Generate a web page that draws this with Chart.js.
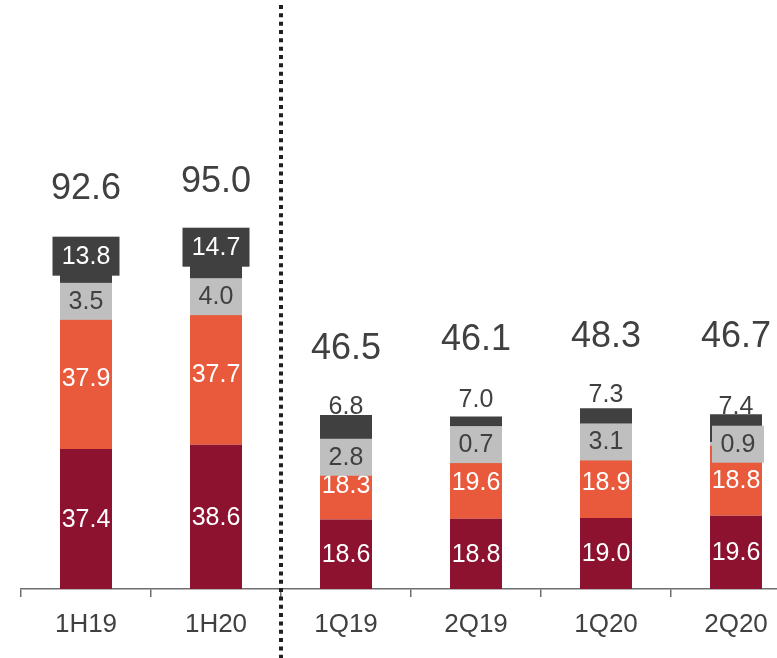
<!DOCTYPE html>
<html>
<head>
<meta charset="utf-8">
<script src="https://cdn.jsdelivr.net/npm/chart.js@4"></script>
<style>
  html, body { margin: 0; padding: 0; background: #fff; overflow: hidden; }
  #wrap { width: 777px; height: 658px; overflow: hidden; }
</style>
</head>
<body>
<div id="wrap"><canvas id="chart" width="805" height="658"></canvas></div>
<script>
const categories = ["1H19", "1H20", "1Q19", "2Q19", "1Q20", "2Q20"];
const baseSeries = [37.4, 38.6, 18.6, 18.8, 19.0, 19.6];
const secondSeries = [37.9, 37.7, 18.3, 19.6, 18.9, 18.8];
const smallSeries = [3.5, 4.0, 2.8, 0.7, 3.1, 0.9];
const topSeries = [13.8, 14.7, 6.8, 7.0, 7.3, 7.4];
const totals = [92.6, 95.0, 46.5, 46.1, 48.3, 46.7];

const FONT = '"Liberation Sans", Arial, sans-serif';
const DARK = "#404040";

// how far above the bar top the labels sit (px)
const totalLift = [54, 52, 66, 77, 71, 77];
const topLabelLift = [0, 0, 8, 16, 13, 7];
const boxedTop = [true, true, false, false, false, false];
// nudges for the grey label boxes (px)
const greyShiftY = [0, 0, 11, 0, 0, 0];
const greyShiftX = [0, 0, 0, 0, 0, 2];

const labelPlugin = {
    id: "segLabels",
    beforeDatasetsDraw(chart) {
        // plain top labels sit behind the bar, the bar clips their bottom
        const ctx = chart.ctx;
        const meta = chart.getDatasetMeta(3);
        ctx.save();
        ctx.font = "25px " + FONT;
        ctx.fillStyle = DARK;
        ctx.textAlign = "center";
        ctx.textBaseline = "middle";
        meta.data.forEach((bar, i) => {
            if (boxedTop[i]) return;
            ctx.fillText(topSeries[i].toFixed(1), bar.x, bar.y - topLabelLift[i]);
        });
        ctx.restore();
    },
    afterDatasetsDraw(chart) {
        const ctx = chart.ctx;
        ctx.save();
        ctx.textAlign = "center";
        ctx.textBaseline = "middle";
        ctx.font = "25px " + FONT;

        // white labels on red and orange
        [0, 1].forEach(d => {
            const meta = chart.getDatasetMeta(d);
            const values = chart.data.datasets[d].data;
            meta.data.forEach((bar, i) => {
                ctx.fillStyle = "#ffffff";
                ctx.fillText(values[i].toFixed(1), bar.x, (bar.y + bar.base) / 2 + 1);
            });
        });

        // grey boxes
        chart.getDatasetMeta(2).data.forEach((bar, i) => {
            const cy = (bar.y + bar.base) / 2 + greyShiftY[i];
            const cx = bar.x + greyShiftX[i];
            ctx.fillStyle = "#bfbfbf";
            ctx.fillRect(cx - 26, cy - 18, 52, 37);
            ctx.fillStyle = DARK;
            ctx.fillText(smallSeries[i].toFixed(1), cx, cy + 1);
        });

        // dark boxes for the half-year bars
        chart.getDatasetMeta(3).data.forEach((bar, i) => {
            if (!boxedTop[i]) return;
            const top = bar.y - 6;
            ctx.fillStyle = DARK;
            ctx.fillRect(bar.x - 33.5, top, 67, 39);
            ctx.fillStyle = "#ffffff";
            ctx.fillText(topSeries[i].toFixed(1), bar.x, top + 20.5);
        });

        // totals
        ctx.font = "36px " + FONT;
        ctx.fillStyle = DARK;
        chart.getDatasetMeta(3).data.forEach((bar, i) => {
            ctx.fillText(totals[i].toFixed(1), bar.x, bar.y - totalLift[i]);
        });
        ctx.restore();
    },
    afterDraw(chart) {
        // dotted divider between half-years and quarters
        const ctx = chart.ctx;
        const xs = chart.scales.x;
        const x = Math.round((xs.getPixelForValue(1) + xs.getPixelForValue(2)) / 2);
        ctx.save();
        ctx.strokeStyle = "#1f1f1f";
        ctx.lineWidth = 4;
        ctx.setLineDash([4, 4.33]);
        ctx.beginPath();
        ctx.moveTo(x, 5);
        ctx.lineTo(x, 658);
        ctx.stroke();
        ctx.restore();
    }
};

const ctx = document.getElementById("chart").getContext("2d");
new Chart(ctx, {
    type: "bar",
    data: {
        labels: categories,
        datasets: [
            { data: baseSeries, backgroundColor: "#8c1230" },
            { data: secondSeries, backgroundColor: "#e95a3c" },
            { data: smallSeries, backgroundColor: "#bfbfbf" },
            { data: topSeries, backgroundColor: "#404040" }
        ]
    },
    options: {
        responsive: false,
        animation: false,
        events: [],
        datasets: { bar: { barPercentage: 0.4, categoryPercentage: 1 } },
        layout: { padding: { left: 21, right: 4, top: 28, bottom: 0 } },
        plugins: { legend: { display: false }, tooltip: { enabled: false } },
        scales: {
            x: {
                stacked: true,
                grid: { offset: true, drawOnChartArea: false, drawTicks: true, tickLength: 8, color: "#6e6e6e", lineWidth: 1.5 },
                border: { display: true, color: "#6e6e6e", width: 1.5 },
                ticks: { color: DARK, font: { family: FONT, size: 26 }, padding: 12, maxRotation: 0, autoSkip: false },
                afterFit(scale) { scale.height = 69; }
            },
            y: {
                stacked: true,
                display: false,
                min: 0,
                max: 150
            }
        }
    },
    plugins: [labelPlugin]
});
</script>
</body>
</html>
